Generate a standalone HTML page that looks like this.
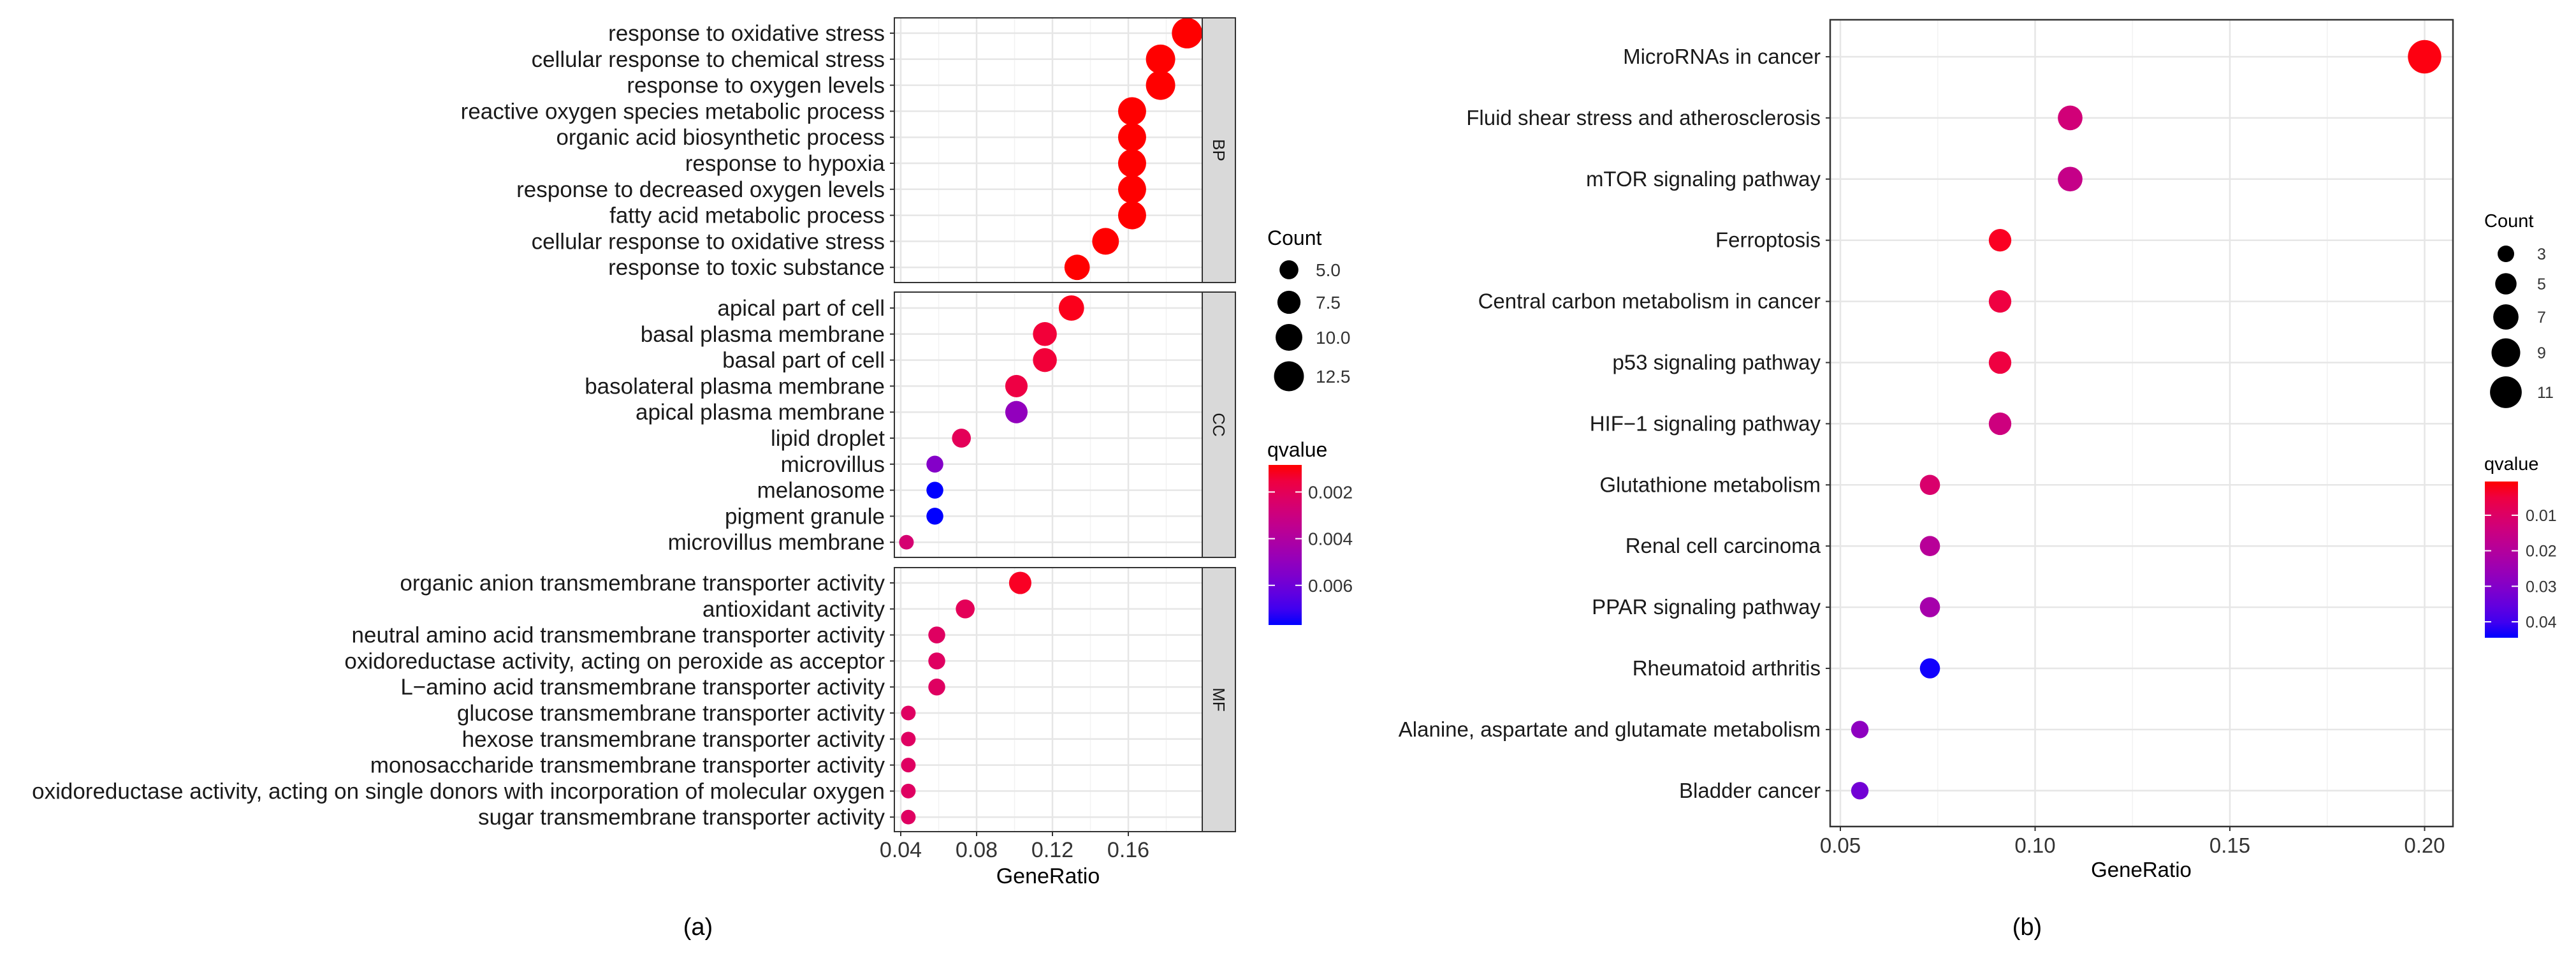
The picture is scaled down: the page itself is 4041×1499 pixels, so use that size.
<!DOCTYPE html>
<html><head><meta charset="utf-8"><style>
html,body{margin:0;padding:0;background:#fff;}
svg{display:block;font-family:"Liberation Sans",Arial,sans-serif;}
</style></head>
<body>
<svg id="fig" width="4041" height="1499" viewBox="0 0 4041 1499" xmlns="http://www.w3.org/2000/svg">
<rect x="0" y="0" width="4041" height="1499" fill="#fff"/>
<g id="pa"></g>
<g id="pb"></g>
<text x="1095" y="1466" font-size="38" text-anchor="middle">(a)</text>
<text x="3180" y="1466" font-size="38" text-anchor="middle">(b)</text>
</svg>
<script>
// ---------- Panel A data ----------
const bpTerms = ["response to oxidative stress","cellular response to chemical stress","response to oxygen levels","reactive oxygen species metabolic process","organic acid biosynthetic process","response to hypoxia","response to decreased oxygen levels","fatty acid metabolic process","cellular response to oxidative stress","response to toxic substance"];
const bpRatio = [0.191,0.177,0.177,0.162,0.162,0.162,0.162,0.162,0.148,0.133];
const bpCount = [13,12,12,11,11,11,11,11,10,9];
const bpQ = [0.0008,0.0008,0.0008,0.0008,0.0008,0.0008,0.0008,0.0008,0.0008,0.0008];
const ccTerms = ["apical part of cell","basal plasma membrane","basal part of cell","basolateral plasma membrane","apical plasma membrane","lipid droplet","microvillus","melanosome","pigment granule","microvillus membrane"];
const ccRatio = [0.130,0.116,0.116,0.101,0.101,0.072,0.058,0.058,0.058,0.043];
const ccCount = [9,8,8,7,7,5,4,4,4,3];
const ccQ = [0.0010,0.0014,0.0014,0.0016,0.0050,0.0020,0.0054,0.0077,0.0077,0.0026];
const mfTerms = ["organic anion transmembrane transporter activity","antioxidant activity","neutral amino acid transmembrane transporter activity","oxidoreductase activity, acting on peroxide as acceptor","L\u2212amino acid transmembrane transporter activity","glucose transmembrane transporter activity","hexose transmembrane transporter activity","monosaccharide transmembrane transporter activity","oxidoreductase activity, acting on single donors with incorporation of molecular oxygen","sugar transmembrane transporter activity"];
const mfRatio = [0.103,0.074,0.059,0.059,0.059,0.044,0.044,0.044,0.044,0.044];
const mfCount = [7,5,4,4,4,3,3,3,3,3];
const mfQ = [0.0011,0.0020,0.0022,0.0022,0.0022,0.0022,0.0022,0.0022,0.0022,0.0022];
const aTicks = [0.04,0.08,0.12,0.16];
const aCountLegend = [5,7.5,10,12.5];
const aQTicks = [0.002,0.004,0.006];
// ---------- Panel B data ----------
const bTerms = ["MicroRNAs in cancer","Fluid shear stress and atherosclerosis","mTOR signaling pathway","Ferroptosis","Central carbon metabolism in cancer","p53 signaling pathway","HIF\u22121 signaling pathway","Glutathione metabolism","Renal cell carcinoma","PPAR signaling pathway","Rheumatoid arthritis","Alanine, aspartate and glutamate metabolism","Bladder cancer"];
const bRatio = [0.200,0.109,0.109,0.091,0.091,0.091,0.091,0.073,0.073,0.073,0.073,0.055,0.055];
const bCount = [11,6,6,5,5,5,5,4,4,4,4,3,3];
const bQ = [0.001,0.013,0.016,0.002,0.005,0.005,0.014,0.011,0.019,0.023,0.044,0.028,0.033];
const bTicks = [0.05,0.10,0.15,0.20];
const bCountLegend = [3,5,7,9,11];
const bQTicks = [0.01,0.02,0.03,0.04];

const NS="http://www.w3.org/2000/svg";
function el(parent,tag,attrs,text){const e=document.createElementNS(NS,tag);for(const k in attrs)e.setAttribute(k,attrs[k]);if(text!==undefined)e.textContent=text;parent.appendChild(e);return e;}
function qColor(q,qmin,qmax){let t=(q-qmin)/(qmax-qmin);t=Math.max(0,Math.min(1,t));
  const r=Math.round(255*Math.pow(1-t,0.6)),b=Math.round(255*Math.pow(t,0.6));
  const g=Math.round(20*(1-t)*0);
  return `rgb(${r},${g},${b})`;}
function rA(c){return 6.63*Math.sqrt(c);}
function rB(c){return 7.9*Math.sqrt(c);}

// ---------- Panel A ----------
const pa=document.getElementById('pa');
const aX0=1403,aX1=1886,aStripR=1938;
const ax=v=>1413+(v-0.04)*2975;
const facets=[{terms:bpTerms,ratio:bpRatio,count:bpCount,q:bpQ,top:28,bot:443,y0:52,lab:"BP"},
 {terms:ccTerms,ratio:ccRatio,count:ccCount,q:ccQ,top:458,bot:874,y0:483,lab:"CC"},
 {terms:mfTerms,ratio:mfRatio,count:mfCount,q:mfQ,top:890,bot:1304,y0:914,lab:"MF"}];
const aqMin=0.00084,aqMax=0.0077;
facets.forEach((f,fi)=>{
  const g=el(pa,'g',{});
  
  
  el(g,'rect',{x:aX0,y:f.top,width:aX1-aX0,height:f.bot-f.top,fill:'#fff'});
  const step=40.8;
  for(let v=0.02;v<=0.2;v+=0.04){const x=ax(v);if(x>aX0&&x<aX1)el(g,'line',{x1:x,x2:x,y1:f.top,y2:f.bot,stroke:'#f2f2f2','stroke-width':1.5});}
  aTicks.forEach(v=>{el(g,'line',{x1:ax(v),x2:ax(v),y1:f.top,y2:f.bot,stroke:'#e6e6e6','stroke-width':2.5});});
  f.terms.forEach((t,i)=>{const y=f.y0+i*step;
    el(g,'line',{x1:aX0,x2:aX1,y1:y,y2:y,stroke:'#e6e6e6','stroke-width':2.5});
    el(g,'line',{x1:aX0-7,x2:aX0,y1:y,y2:y,stroke:'#333','stroke-width':2});
    const tx=el(g,'text',{x:1388,y:y+12,'font-size':35,'text-anchor':'end',fill:'#1a1a1a'},t);
    
    
  });
  f.terms.forEach((t,i)=>{const y=f.y0+i*step;
    const c=el(g,'ellipse',{cx:ax(f.ratio[i]),cy:y,rx:rA(f.count[i]),ry:rA(f.count[i]),fill:qColor(f.q[i],aqMin,aqMax)});
    
    
  });
  el(g,'rect',{x:aX1,y:f.top,width:aStripR-aX1,height:f.bot-f.top,fill:'#d9d9d9',stroke:'#333','stroke-width':2});
  el(g,'rect',{x:aX0,y:f.top,width:aX1-aX0,height:f.bot-f.top,fill:'none',stroke:'#333','stroke-width':2});
  const cy=(f.top+f.bot)/2,cx=(aX1+aStripR)/2;
  const st=el(g,'text',{x:cx,y:cy,'font-size':26,'text-anchor':'middle',fill:'#1a1a1a',transform:`rotate(90 ${cx} ${cy})`,dy:9},f.lab);
  
  
});
aTicks.forEach(v=>{el(pa,'line',{x1:ax(v),x2:ax(v),y1:1304,y2:1311,stroke:'#333','stroke-width':2});
  const t=el(pa,'text',{x:ax(v),y:1344,'font-size':34,'text-anchor':'middle',fill:'#333'},v.toFixed(2));
  
  });
{const t=el(pa,'text',{x:1644,y:1385,'font-size':34,'text-anchor':'middle',fill:'#000'},'GeneRatio');
 
 }
{const t=el(pa,'text',{x:1988,y:384,'font-size':32,fill:'#000'},'Count');
 
 
 const ys=[423,474,529,590];
 aCountLegend.forEach((c,i)=>{const e=el(pa,'circle',{cx:2022,cy:ys[i],r:rA(c),fill:'#000'});
  
  
  el(pa,'text',{x:2064,y:ys[i]+10,'font-size':28,fill:'#333'},c.toFixed(1));});
 const q=el(pa,'text',{x:1988,y:716,'font-size':32,fill:'#000'},'qvalue');
 
 
 const gd=el(pa,'linearGradient',{id:'ga',x1:0,y1:0,x2:0,y2:1});
 for(let k=0;k<=10;k++){const v=aqMin+(aqMax-aqMin)*k/10;el(gd,'stop',{offset:k/10,'stop-color':qColor(v,aqMin,aqMax)});}
 const cb=el(pa,'rect',{x:1990,y:729,width:52,height:251,fill:'url(#ga)'});
 
 
 aQTicks.forEach(v=>{const y=729+(v-aqMin)/(aqMax-aqMin)*251;
  el(pa,'line',{x1:1990,x2:2000,y1:y,y2:y,stroke:'#fff','stroke-width':2});
  el(pa,'line',{x1:2032,x2:2042,y1:y,y2:y,stroke:'#fff','stroke-width':2});
  el(pa,'text',{x:2052,y:y+10,'font-size':28,fill:'#333'},v.toFixed(3));});
}

// ---------- Panel B ----------
const pb=document.getElementById('pb');
const bX0=2871,bX1=3848,bTop=31,bBot=1296;
const bx=v=>2887+(v-0.05)*6110;
const bqMin=0.0005,bqMax=0.0445;
el(pb,'rect',{x:bX0,y:bTop,width:bX1-bX0,height:bBot-bTop,fill:'#fff'});
[0.075,0.125,0.175].forEach(v=>el(pb,'line',{x1:bx(v),x2:bx(v),y1:bTop,y2:bBot,stroke:'#f2f2f2','stroke-width':1.5}));
bTicks.forEach(v=>el(pb,'line',{x1:bx(v),x2:bx(v),y1:bTop,y2:bBot,stroke:'#e6e6e6','stroke-width':2.5}));
bTerms.forEach((t,i)=>{const y=89+i*95.9;
  el(pb,'line',{x1:bX0,x2:bX1,y1:y,y2:y,stroke:'#e6e6e6','stroke-width':2.5});
  el(pb,'line',{x1:bX0-7,x2:bX0,y1:y,y2:y,stroke:'#333','stroke-width':2});
  const tx=el(pb,'text',{x:2856,y:y+11,'font-size':33,'text-anchor':'end',fill:'#1a1a1a'},t);
  
  });
bTerms.forEach((t,i)=>{const y=89+i*95.9;
  const c=el(pb,'circle',{cx:bx(bRatio[i]),cy:y,r:rB(bCount[i]),fill:qColor(bQ[i],bqMin,bqMax)});
  
  });
el(pb,'rect',{x:bX0,y:bTop,width:bX1-bX0,height:bBot-bTop,fill:'none',stroke:'#333','stroke-width':2.5});
bTicks.forEach(v=>{el(pb,'line',{x1:bx(v),x2:bx(v),y1:bBot,y2:bBot+7,stroke:'#333','stroke-width':2});
  const t=el(pb,'text',{x:bx(v),y:1337,'font-size':33,'text-anchor':'middle',fill:'#333'},v.toFixed(2));
  
  });
{const t=el(pb,'text',{x:3359,y:1375,'font-size':33,'text-anchor':'middle',fill:'#000'},'GeneRatio');
 
 
 const c=el(pb,'text',{x:3897,y:356,'font-size':29,fill:'#000'},'Count');
 
 
 const ys=[398,445,497,553,615];
 bCountLegend.forEach((n,i)=>{const e=el(pb,'circle',{cx:3931,cy:ys[i],r:rB(n)*0.95,fill:'#000'});
  
  
  el(pb,'text',{x:3980,y:ys[i]+9,'font-size':25,fill:'#333'},String(n));});
 const q=el(pb,'text',{x:3897,y:737,'font-size':29,fill:'#000'},'qvalue');
 
 
 const gd=el(pb,'linearGradient',{id:'gb',x1:0,y1:0,x2:0,y2:1});
 for(let k=0;k<=10;k++){const v=bqMin+(bqMax-bqMin)*k/10;el(gd,'stop',{offset:k/10,'stop-color':qColor(v,bqMin,bqMax)});}
 const cb=el(pb,'rect',{x:3898,y:755,width:52,height:245,fill:'url(#gb)'});
 
 
 bQTicks.forEach(v=>{const y=755+(v-bqMin)/(bqMax-bqMin)*245;
  el(pb,'line',{x1:3898,x2:3908,y1:y,y2:y,stroke:'#fff','stroke-width':2});
  el(pb,'line',{x1:3940,x2:3950,y1:y,y2:y,stroke:'#fff','stroke-width':2});
  el(pb,'text',{x:3962,y:y+9,'font-size':25,fill:'#333'},v.toFixed(2));});
}
</script>
</body></html>
